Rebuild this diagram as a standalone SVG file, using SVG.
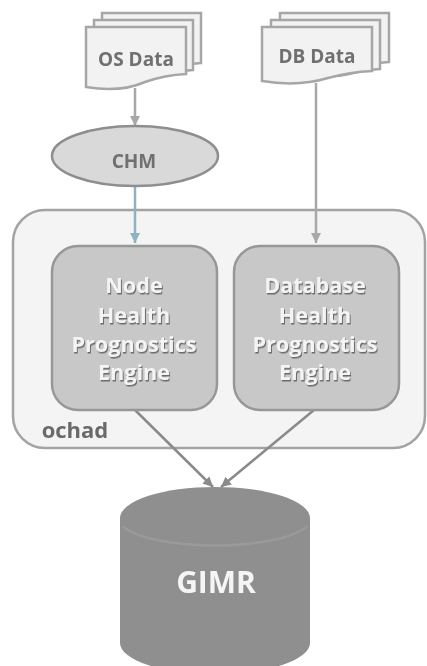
<svg xmlns="http://www.w3.org/2000/svg" width="427" height="666" viewBox="0 0 427 666">
<style>
.doc{fill:#f2f2f2;stroke:#a6a6a6;stroke-width:2.5}
.eng{fill:#c8c8c8;stroke:#979797;stroke-width:2.5}
.lbl{font-family:"Open Sans","Liberation Sans",sans-serif;font-weight:700;text-anchor:middle}
.dark{fill:#6f6f6f;font-size:19px}
.eng-t{fill:#f4f4f4;font-size:21.6px;filter:url(#sh)}
.con{fill:none;stroke:#a8a8a8;stroke-width:2.5}
</style>
<defs>
<filter id="soft" x="0" y="0" width="427" height="666" filterUnits="userSpaceOnUse"><feGaussianBlur stdDeviation="0.55"/></filter>
<filter id="sh" x="-10%" y="-20%" width="120%" height="150%"><feDropShadow dx="1" dy="1.5" stdDeviation="0.7" flood-color="#6a6a6a"/></filter>
<marker id="a" markerUnits="userSpaceOnUse" markerWidth="12" markerHeight="12" refX="10" refY="6" orient="auto"><path d="M0,1L10,6L0,11Z" fill="#a8a8a8"/></marker>
<marker id="b" markerUnits="userSpaceOnUse" markerWidth="12" markerHeight="12" refX="10" refY="6" orient="auto"><path d="M0,1L10,6L0,11Z" fill="#8fb1c0"/></marker>
<marker id="c" markerUnits="userSpaceOnUse" markerWidth="12" markerHeight="12" refX="10" refY="6" orient="auto"><path d="M0,1L10,6L0,11Z" fill="#8a8a8a"/></marker>
</defs>
<rect width="427" height="666" fill="#fff"/>
<g filter="url(#soft)">
<g id="ochad">
<rect x="13" y="210" width="412" height="238" rx="32" fill="#f4f4f4" stroke="#a3a3a3" stroke-width="2.5"/>
<text class="lbl" x="75" y="438" font-size="22" fill="#6b6b6b">ochad</text>
</g>
<g id="connectors">
<path class="con" d="M135,88V126" marker-end="url(#a)"/>
<path class="con" d="M135,186V243" style="stroke:#8fb1c0" marker-end="url(#b)"/>
<path class="con" d="M316,83V243" marker-end="url(#a)"/>
<path class="con" d="M135,410L213,487" style="stroke:#8a8a8a" marker-end="url(#c)"/>
<path class="con" d="M314,410L221,487" style="stroke:#8a8a8a" marker-end="url(#c)"/>
</g>
<g id="os-data">
<path class="doc" d="M102,13H201V63Q185,64 172,69Q150,74 102,70Z"/>
<path class="doc" d="M94,20H193V70Q177,71 164,76Q142,81 94,77Z"/>
<path class="doc" d="M86,27H186V74Q165,75 145,82Q120,93 86,87Z"/>
<text class="lbl dark" x="136" y="66">OS Data</text>
</g>
<g id="db-data">
<path class="doc" d="M280,13H389V62Q372,63 358,67Q330,73 280,68Z"/>
<path class="doc" d="M271,20H380V69Q363,70 349,74Q321,80 271,75Z"/>
<path class="doc" d="M262,27H372V71Q350,72 328,78Q298,87 262,81Z"/>
<text class="lbl dark" x="317" y="63">DB Data</text>
</g>
<g id="chm">
<ellipse cx="135" cy="156" rx="83" ry="30" fill="#d9d9d9" stroke="#8e8e8e" stroke-width="2.5"/>
<text class="lbl dark" x="134" y="168">CHM</text>
</g>
<g id="node-engine">
<rect class="eng" x="52" y="246" width="165" height="164" rx="26"/>
<text class="lbl eng-t"><tspan x="134" y="293">Node</tspan><tspan x="134" y="323">Health</tspan><tspan x="134" y="352">Prognostics</tspan><tspan x="134" y="380">Engine</tspan></text>
</g>
<g id="db-engine">
<rect class="eng" x="234" y="246" width="165" height="164" rx="26"/>
<text class="lbl eng-t"><tspan x="315" y="293">Database</tspan><tspan x="315" y="323">Health</tspan><tspan x="315" y="352">Prognostics</tspan><tspan x="315" y="380">Engine</tspan></text>
</g>
<g id="gimr">
<path d="M120,518A95,31 0 0 1 310,518V643A95,31 0 0 1 120,643Z" fill="#8f8f8f"/>
<path d="M123,526A95,26 0 0 0 307,526" fill="none" stroke="#9a9a9a" stroke-width="2.5"/>
<text class="lbl" x="216" y="593" font-size="30" fill="#f5f5f5">GIMR</text>
</g>
</g>
</svg>
